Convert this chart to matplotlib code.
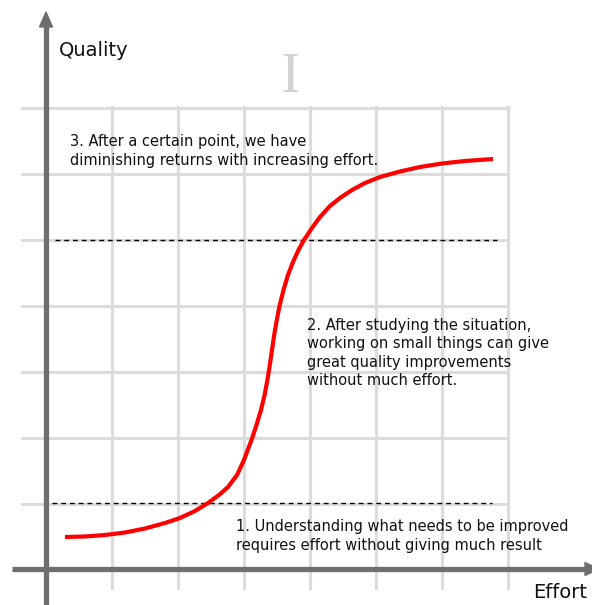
import numpy as np
import matplotlib.pyplot as plt
from matplotlib.patches import Polygon

# effort / quality curve (pixel space, y down)
effort = [65, 85, 105, 125, 145, 165, 180, 195, 208, 219, 228, 237, 244,
          247, 251.5, 256.5, 261, 264.6, 267.4, 269.8, 272, 274.2, 276.8, 279.5,
          283.5, 288, 293, 298.5, 304, 312, 320, 330, 340, 352, 365, 380, 400,
          420, 442, 465, 493]
quality = [537, 536.5, 535, 532.5, 528.5, 523, 518, 511, 503, 495, 487, 475,
           460, 452, 440, 425, 410, 395, 380, 365, 350, 335, 320, 306,
           290, 275, 262, 250, 240, 228, 217, 206, 198, 190, 183, 177, 171.5,
           167, 163.5, 161, 159]

# dashed threshold levels (y) and their x extents
levels = [240, 503]
level_x = [(55, 497), (52, 492)]

notes = [
    "3. After a certain point, we have\ndiminishing returns with increasing effort.",
    "2. After studying the situation,\nworking on small things can give\ngreat quality improvements\nwithout much effort.",
    "1. Understanding what needs to be improved\nrequires effort without giving much result",
]
note_pos = [(70, 151), (307, 353), (236, 536)]

W, H = 592, 605
AXIS = "#6e6e6e"
GRID = "#dcdcdc"

fig = plt.figure(figsize=(W / 100, H / 100), dpi=100)
ax = fig.add_axes([0, 0, 1, 1])
ax.set_xlim(0, W)
ax.set_ylim(H, 0)
ax.axis("off")

# background grid
step = 66
for gx in np.arange(112, 509, step):
    ax.plot([gx, gx], [107, 588], color=GRID, lw=2.2, zorder=1)
for gy in np.arange(108, 505, step):
    ax.plot([22, 508], [gy, gy], color=GRID, lw=2.2, zorder=1)

# text cursor glyph
ax.text(291, 78, "I", fontsize=42, family="Liberation Serif", color="#d3d3d3",
        ha="center", va="center", zorder=2)

# dashed levels
for y, (x0, x1) in zip(levels, level_x):
    ax.plot([x0, x1], [y, y], color="black", lw=1.0, ls=(0, (3.5, 2.8)), zorder=3)

# axes with arrows
ax.plot([46, 46], [H, 26], color=AXIS, lw=3.8, solid_capstyle="butt", zorder=4)
ax.add_patch(Polygon([[39.5, 27], [52.5, 27], [46, 12]], closed=True,
                     color=AXIS, zorder=4))
ax.plot([12, 586], [569, 569], color=AXIS, lw=3.8, solid_capstyle="butt", zorder=4)
ax.add_patch(Polygon([[585, 562.5], [585, 575.5], [599, 569]], closed=True,
                     color=AXIS, zorder=4))

ax.text(59, 50, "Quality", fontsize=14, va="center", ha="left", color="#111111")
ax.text(587, 592, "Effort", fontsize=14, va="center", ha="right", color="#111111")

# curve
ax.plot(effort, quality, color="red", lw=3.0, solid_capstyle="butt",
        solid_joinstyle="round", zorder=5)

for txt, (x, y) in zip(notes, note_pos):
    ax.text(x, y, txt, fontsize=10.5, ha="left", va="center", color="#111111",
            linespacing=1.3, zorder=6)

fig.savefig("out.png", dpi=100)
